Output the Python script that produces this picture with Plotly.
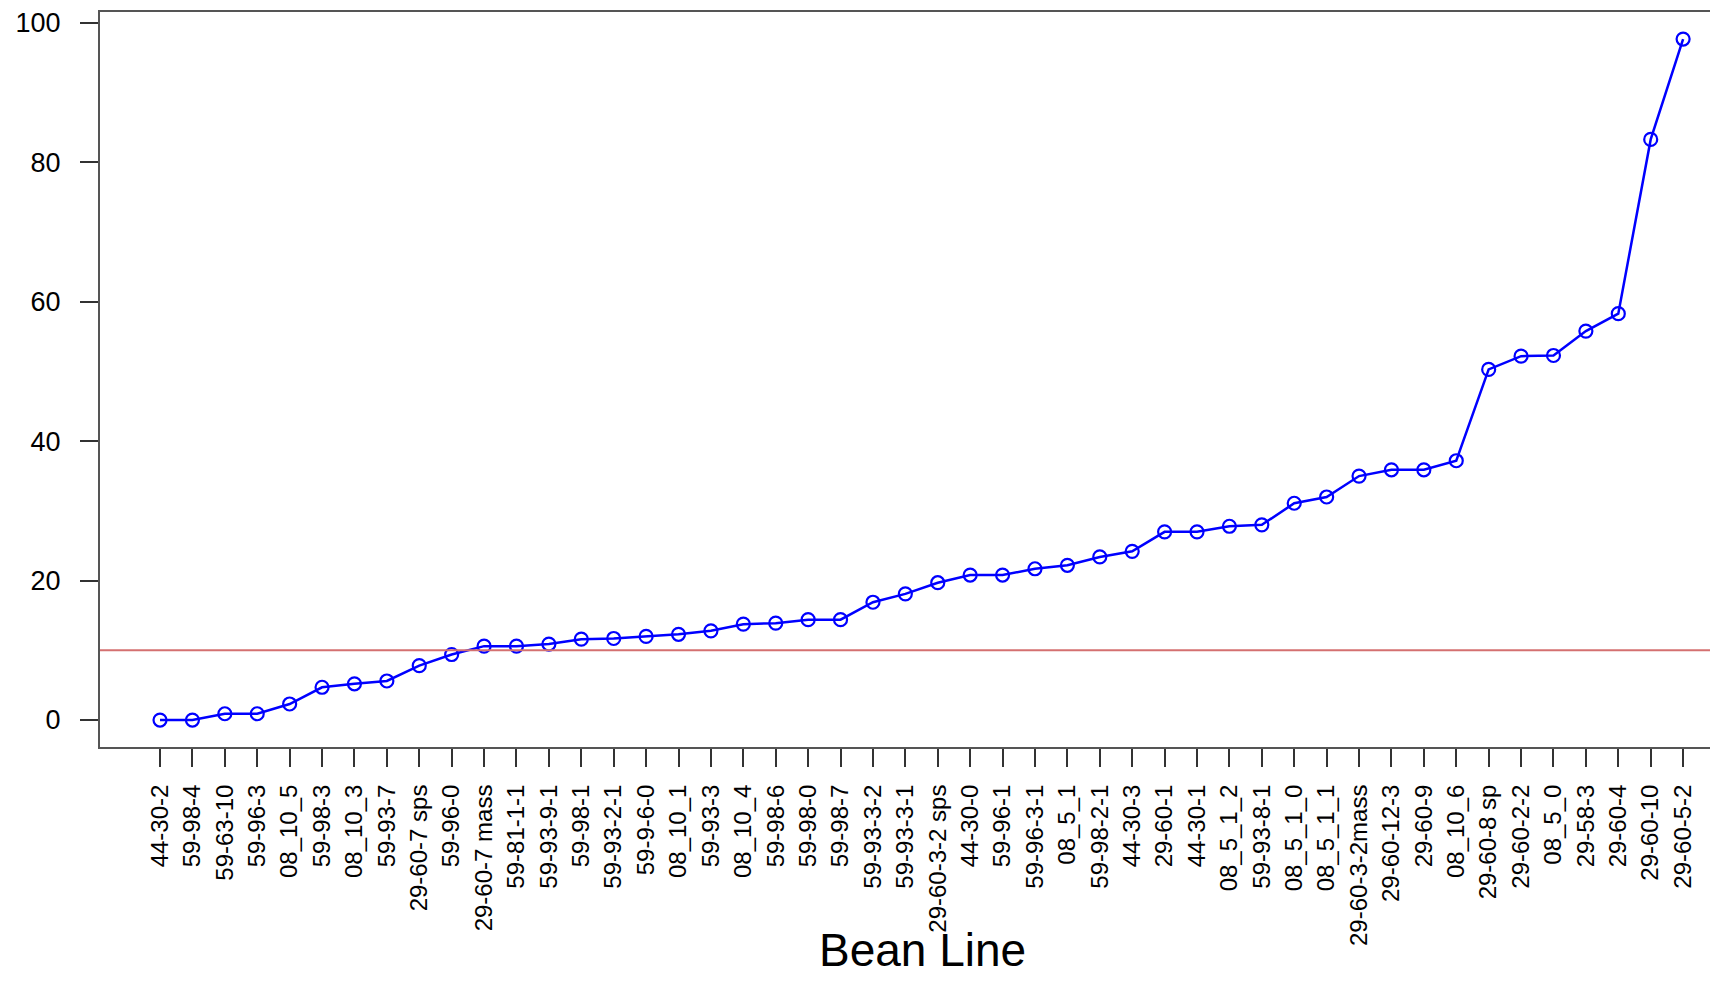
import plotly.graph_objects as go

lines = ["44-30-2", "59-98-4", "59-63-10", "59-96-3", "08_10_5", "59-98-3", "08_10_3", "59-93-7",
         "29-60-7 sps", "59-96-0", "29-60-7 mass", "59-81-1-1", "59-93-9-1", "59-98-1", "59-93-2-1",
         "59-9-6-0", "08_10_1", "59-93-3", "08_10_4", "59-98-6", "59-98-0", "59-98-7", "59-93-3-2",
         "59-93-3-1", "29-60-3-2 sps", "44-30-0", "59-96-1", "59-96-3-1", "08_5_1", "59-98-2-1",
         "44-30-3", "29-60-1", "44-30-1", "08_5_1_2", "59-93-8-1", "08_5_1_0", "08_5_1_1",
         "29-60-3-2mass", "29-60-12-3", "29-60-9", "08_10_6", "29-60-8 sp", "29-60-2-2", "08_5_0",
         "29-58-3", "29-60-4", "29-60-10", "29-60-5-2"]
values = [0.0, 0.0, 0.9, 0.9, 2.3, 4.7, 5.2, 5.6, 7.8, 9.4, 10.6, 10.6, 10.9, 11.6, 11.7, 12.0,
          12.3, 12.8, 13.75, 13.9, 14.4, 14.4, 16.9, 18.1, 19.7, 20.8, 20.8, 21.7, 22.2, 23.4,
          24.2, 27.0, 27.0, 27.8, 28.0, 31.1, 32.0, 35.0, 35.9, 35.9, 37.2, 50.3, 52.2, 52.3,
          55.8, 58.3, 83.3, 97.7]
threshold = 10
yticks = [0, 20, 40, 60, 80, 100]

positions = list(range(1, len(lines) + 1))

fig = go.Figure()
fig.add_trace(go.Scatter(
    x=positions, y=values, mode="lines+markers",
    line=dict(color="#0000ff", width=2.5),
    marker=dict(symbol="circle-open", size=13, color="#0000ff", line=dict(width=2.2)),
    showlegend=False,
))
fig.add_hline(y=threshold, line=dict(color="#d47070", width=2))

fig.add_annotation(
    text="Bean Line", xref="paper", yref="paper", x=0.5106, y=-0.314,
    xanchor="center", yanchor="bottom", showarrow=False,
    font=dict(family="Liberation Sans, Arial, sans-serif", size=46, color="#000"),
)

fig.update_layout(
    width=1710, height=981,
    margin=dict(l=100, r=0, t=12, b=234),
    plot_bgcolor="white", paper_bgcolor="white",
    font=dict(family="Liberation Sans, Arial, sans-serif", color="#000"),
    xaxis=dict(
        range=[-0.852, 48.83], tickmode="array", tickvals=positions, ticktext=lines,
        tickangle=-90, tickfont=dict(size=24), ticks="outside", ticklen=18, tickwidth=1.5,
        tickcolor="#333", showline=True, linecolor="#555", linewidth=2, mirror=True,
        showgrid=False, zeroline=False, ticklabelstandoff=8,
    ),
    yaxis=dict(
        range=[-3.87, 101.58], tickmode="array", tickvals=yticks,
        tickfont=dict(size=27), ticks="outside", ticklen=18, tickwidth=1.5, tickcolor="#333",
        showline=True, linecolor="#555", linewidth=2, mirror=False,
        showgrid=False, zeroline=False, ticklabelstandoff=14,
    ),
)

fig.write_html("out.html")
